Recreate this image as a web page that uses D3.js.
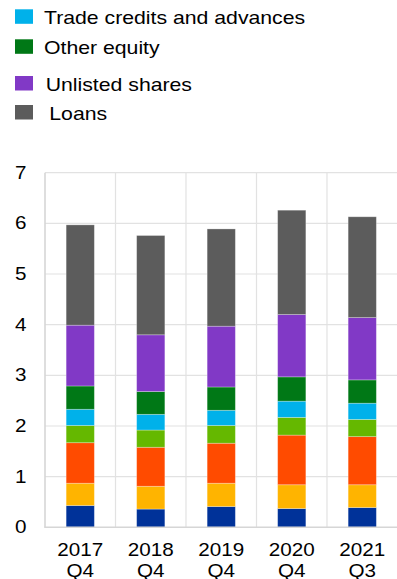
<!DOCTYPE html>
<html>
<head>
<meta charset="utf-8">
<script src="https://cdn.jsdelivr.net/npm/d3@7/dist/d3.min.js"></script>
<style>
  html, body { margin: 0; padding: 0; background: #ffffff; }
  svg { display: block; }
  text { font-family: "Liberation Sans", Arial, sans-serif; fill: #000; }
</style>
</head>
<body>
<script>
// Periods on the x axis (two-line labels)
const categories = ["2017 Q4", "2018 Q4", "2019 Q4", "2020 Q4", "2021 Q3"];

// Stacked components, bottom to top (EUR trillions)
const seriesNames = [
  "Debt securities",
  "Listed shares",
  "Deposits",
  "Other liabilities",
  "Trade credits and advances",
  "Other equity",
  "Unlisted shares",
  "Loans"
];
const debtSecurities   = [0.43, 0.36, 0.41, 0.37, 0.39];
const listedShares     = [0.44, 0.45, 0.46, 0.47, 0.45];
const deposits         = [0.80, 0.77, 0.79, 0.98, 0.95];
const otherLiabilities = [0.34, 0.34, 0.35, 0.35, 0.34];
const tradeCredits     = [0.32, 0.31, 0.30, 0.32, 0.32];
const otherEquity      = [0.46, 0.45, 0.46, 0.48, 0.46];
const unlistedShares   = [1.20, 1.12, 1.20, 1.23, 1.23];
const loans            = [1.98, 1.96, 1.92, 2.06, 1.99];

const seriesColors = ["#003299", "#ffb400", "#ff4b00", "#65b800",
                      "#00b1ea", "#007816", "#8139c6", "#5c5c5c"];

// Legend entries shown above the chart
const legendItems = ["Trade credits and advances", "Other equity", "Unlisted shares", "Loans"];

const yTicks = [0, 1, 2, 3, 4, 5, 6, 7];

// ---- layout ----
const W = 397, H = 579;
const plot = { left: 45, right: 397.5, top: 172.7, bottom: 527.3 };
const textStretch = 1.18;

const rows = categories.map((c, i) => ({
  period: c,
  "Debt securities": debtSecurities[i],
  "Listed shares": listedShares[i],
  "Deposits": deposits[i],
  "Other liabilities": otherLiabilities[i],
  "Trade credits and advances": tradeCredits[i],
  "Other equity": otherEquity[i],
  "Unlisted shares": unlistedShares[i],
  "Loans": loans[i]
}));

const svg = d3.select("body").append("svg")
  .attr("width", W).attr("height", H);

const x = d3.scaleBand()
  .domain(categories)
  .range([plot.left, plot.right])
  .paddingInner(0.6)
  .paddingOuter(0.3);

const y = d3.scaleLinear()
  .domain([0, 7])
  .range([plot.bottom, plot.top]);

const color = d3.scaleOrdinal().domain(seriesNames).range(seriesColors);

// horizontal gridlines
svg.append("g")
  .selectAll("line")
  .data(yTicks.filter(t => t > 0))
  .join("line")
  .attr("x1", plot.left).attr("x2", plot.right)
  .attr("y1", d => y(d)).attr("y2", d => y(d))
  .attr("stroke", "#e2e2e2").attr("stroke-width", 1.2);

// vertical gridlines between periods
const step = x.step();
svg.append("g")
  .selectAll("line")
  .data(d3.range(1, categories.length))
  .join("line")
  .attr("x1", i => plot.left + i * step).attr("x2", i => plot.left + i * step)
  .attr("y1", plot.top).attr("y2", plot.bottom)
  .attr("stroke", "#e2e2e2").attr("stroke-width", 1.2);

// stacked bars
const stack = d3.stack().keys(seriesNames);
const layers = stack(rows);

svg.append("g")
  .selectAll("g")
  .data(layers)
  .join("g")
  .attr("fill", d => color(d.key))
  .selectAll("rect")
  .data(d => d)
  .join("rect")
  .attr("x", d => x(d.data.period))
  .attr("width", x.bandwidth())
  .attr("y", d => y(d[1]))
  .attr("height", d => y(d[0]) - y(d[1]))
  .attr("stroke", "rgba(255,255,255,0.35)")
  .attr("stroke-width", 0.8);

// axis lines
svg.append("line")
  .attr("x1", plot.left).attr("x2", plot.left)
  .attr("y1", plot.top).attr("y2", plot.bottom)
  .attr("stroke", "#d6d6d6").attr("stroke-width", 1.6);
svg.append("line")
  .attr("x1", plot.left - 0.8).attr("x2", plot.right)
  .attr("y1", plot.bottom).attr("y2", plot.bottom)
  .attr("stroke", "#d6d6d6").attr("stroke-width", 1.6);

// y tick labels
svg.append("g")
  .selectAll("text")
  .data(yTicks)
  .join("text")
  .attr("transform", d => `translate(26.5,${y(d)}) scale(${textStretch},1)`)
  .attr("text-anchor", "end")
  .attr("dy", "0.35em")
  .style("font-size", "17.5px")
  .text(d => d3.format("d")(d));

// x tick labels (two lines)
const xl = svg.append("g")
  .selectAll("text")
  .data(categories)
  .join("text")
  .attr("transform", d => `translate(${x(d) + x.bandwidth() / 2},555.7) scale(${textStretch},1)`)
  .attr("text-anchor", "middle")
  .style("font-size", "17.5px");
xl.append("tspan").attr("x", 0).attr("y", 0).text(d => d.split(" ")[0]);
xl.append("tspan").attr("x", 0).attr("y", 21).text(d => d.split(" ")[1]);

// legend
const legendTop = [9.3, 39.3, 76, 105];
const legendTextX = [44, 44, 45.7, 49.3];
const lg = svg.append("g")
  .selectAll("g")
  .data(legendItems)
  .join("g");
lg.append("rect")
  .attr("x", 15)
  .attr("y", (d, i) => legendTop[i])
  .attr("width", 18)
  .attr("height", 14.5)
  .attr("fill", d => color(d));
lg.append("text")
  .attr("transform", (d, i) => `translate(${legendTextX[i]},${legendTop[i] + 14.6}) scale(${textStretch},1)`)
  .style("font-size", "18px")
  .text(d => d);
</script>
</body>
</html>
